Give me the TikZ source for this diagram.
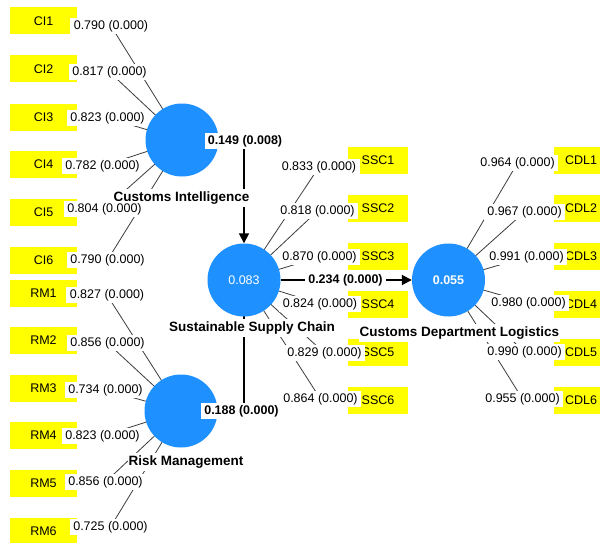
\documentclass[tikz,border=0pt]{standalone}
\usepackage{fontspec}
\setmainfont{Liberation Sans}
\usetikzlibrary{arrows.meta,backgrounds}
\definecolor{plsblue}{RGB}{30,144,255}
\definecolor{plsyellow}{RGB}{255,255,0}
\definecolor{loadgray}{RGB}{60,60,60}
\begin{document}
\begin{tikzpicture}[x=1pt,y=-1pt,
  ind/.style={fill=plsyellow, minimum height=27pt, inner sep=0pt, font=\fontsize{12.5}{15}\selectfont},
  indl/.style={ind, minimum width=67pt},
  indm/.style={ind, minimum width=60pt},
  indr/.style={ind, minimum width=54pt},
  cons/.style={circle, fill=plsblue, minimum size=73pt, inner sep=0pt, text=white},
  cname/.style={fill=white, inner xsep=1pt, inner ysep=2.5pt, font=\bfseries\fontsize{13.5}{16}\selectfont},
  load/.style={fill=white, inner xsep=3.5pt, inner ysep=2pt, font=\fontsize{12.5}{15}\selectfont},
  pathlbl/.style={fill=white, inner xsep=3pt, inner ysep=2pt, font=\bfseries\fontsize{12.5}{15}\selectfont},
  loadline/.style={draw=loadgray, line width=0.8pt},
  pathline/.style={draw=black, line width=1.8pt, -{Triangle[length=10pt,width=10pt]}}
]
\useasboundingbox (0,0) rectangle (600,543);
\clip (0,0) rectangle (600,543);

% indicator boxes
\node[indl] (ci1) at (43.5,21) {CI1};
\node[indl] (ci2) at (43.5,69) {CI2};
\node[indl] (ci3) at (43.5,117) {CI3};
\node[indl] (ci4) at (43.5,164.5) {CI4};
\node[indl] (ci5) at (43.5,212.5) {CI5};
\node[indl] (ci6) at (43.5,260) {CI6};
\node[indl] (rm1) at (43.5,293) {RM1};
\node[indl] (rm2) at (43.5,340.5) {RM2};
\node[indl] (rm3) at (43.5,388) {RM3};
\node[indl] (rm4) at (43.5,435.5) {RM4};
\node[indl] (rm5) at (43.5,483) {RM5};
\node[indl] (rm6) at (43.5,531) {RM6};
\node[indm] (ssc1) at (378,160.5) {SSC1};
\node[indm] (ssc2) at (378,208.5) {SSC2};
\node[indm] (ssc3) at (378,256.5) {SSC3};
\node[indm] (ssc4) at (378,304.5) {SSC4};
\node[indm] (ssc5) at (378,352.5) {SSC5};
\node[indm] (ssc6) at (378,400) {SSC6};
\node[indr] (cdl1) at (581,160.5) {CDL1};
\node[indr] (cdl2) at (581,208.5) {CDL2};
\node[indr] (cdl3) at (581,256.5) {CDL3};
\node[indr] (cdl4) at (581,304.5) {CDL4};
\node[indr] (cdl5) at (581,352.5) {CDL5};
\node[indr] (cdl6) at (581,400) {CDL6};

% constructs
\node[cons] (ci) at (182,140) {};
\node[cons] (ssc) at (244,280) {\fontsize{12.5}{15}\selectfont 0.083};
\node[cons] (rm) at (181,411) {};
\node[cons] (cdl) at (448.5,280) {\bfseries\fontsize{12.5}{15}\selectfont 0.055};

% construct names
\node[cname] (ciname) at (181.5,198) {Customs Intelligence};
\node[cname] (sscname) at (252,328) {Sustainable Supply Chain};
\node[cname] (rmname) at (186,462) {Risk Management};
\node[cname] (cdlname) at (459.5,333) {Customs Department Logistics};

% loading labels
\node[load] (lci1) at (111,26) {0.790 (0.000)};
\node[load] (lci2) at (109.5,72) {0.817 (0.000)};
\node[load] (lci3) at (107.5,118) {0.823 (0.000)};
\node[load] (lci4) at (102.5,166) {0.782 (0.000)};
\node[load] (lci5) at (104.5,209) {0.804 (0.000)};
\node[load] (lci6) at (107.5,260) {0.790 (0.000)};
\node[load] (lrm1) at (107,295) {0.827 (0.000)};
\node[load] (lrm2) at (107.5,343) {0.856 (0.000)};
\node[load] (lrm3) at (105.5,390) {0.734 (0.000)};
\node[load] (lrm4) at (102.5,436) {0.823 (0.000)};
\node[load] (lrm5) at (105.5,482) {0.856 (0.000)};
\node[load] (lrm6) at (110.5,527) {0.725 (0.000)};
\node[load] (lssc1) at (319,167) {0.833 (0.000)};
\node[load] (lssc2) at (317.5,211) {0.818 (0.000)};
\node[load] (lssc3) at (319.5,257) {0.870 (0.000)};
\node[load] (lssc4) at (320,304) {0.824 (0.000)};
\node[load] (lssc5) at (324.5,353) {0.829 (0.000)};
\node[load] (lssc6) at (320.5,399) {0.864 (0.000)};
\node[load] (lcdl1) at (517.5,163) {0.964 (0.000)};
\node[load] (lcdl2) at (524.5,212) {0.967 (0.000)};
\node[load] (lcdl3) at (526.5,257) {0.991 (0.000)};
\node[load] (lcdl4) at (528.5,303) {0.980 (0.000)};
\node[load] (lcdl5) at (524.5,352) {0.990 (0.000)};
\node[load] (lcdl6) at (522.5,399) {0.955 (0.000)};

% path labels
\node[pathlbl] (p1) at (245,141) {0.149 (0.008)};
\node[pathlbl] (p2) at (241.5,411) {0.188 (0.000)};
\node[pathlbl] (p3) at (345.5,280) {0.234 (0.000)};

\begin{pgfonlayer}{background}
  \fill[white] (0,0) rectangle (600,543);
  \foreach \i in {1,...,6} {
    \draw[loadline] (lci\i.center) -- (ci.center);
    \draw[loadline] (lrm\i.center) -- (rm.center);
    \draw[loadline] (lssc\i.center) -- (ssc.center);
    \draw[loadline] (lcdl\i.center) -- (cdl.center);
  }
  \draw[pathline] (ci) -| (ssc);
  \draw[pathline] (rm) -| (ssc.center);
  \draw[pathline] (ssc) -- (cdl);
\end{pgfonlayer}
\end{tikzpicture}
\end{document}
